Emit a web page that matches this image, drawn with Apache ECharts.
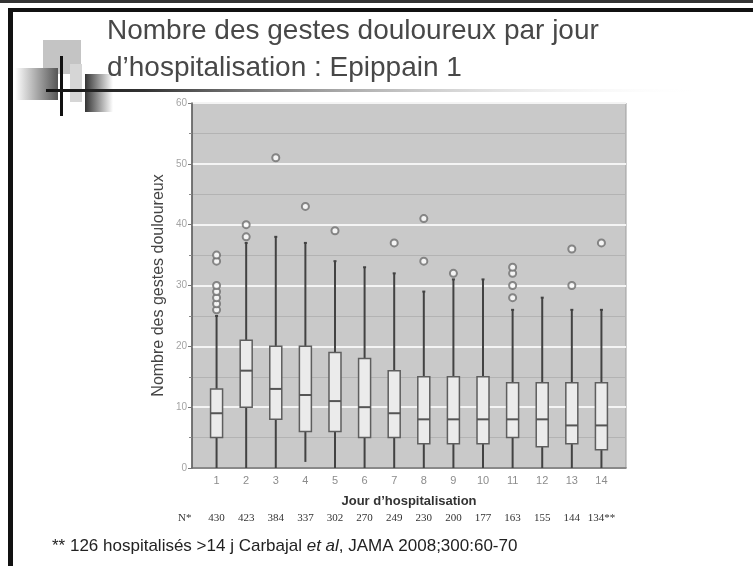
<!DOCTYPE html>
<html>
<head>
<meta charset="utf-8">
<script src="https://cdn.jsdelivr.net/npm/echarts@6/dist/echarts.min.js"></script>
<style>
  html, body { margin: 0; padding: 0; background: #fff; }
  #chart { width: 753px; height: 566px; }
</style>
</head>
<body>
<div id="chart"></div>
<script>
// day of hospitalisation (x tick labels)
const categories = ['1', '2', '3', '4', '5', '6', '7', '8', '9', '10', '11', '12', '13', '14'];
// box plot values per day
const whiskerLow = [0, 0, 0, 1, 0, 0, 0, 0, 0, 0, 0, 0, 0, 0];
const q1 = [5, 10, 8, 6, 6, 5, 5, 4, 4, 4, 5, 3.5, 4, 3];
const median = [9, 16, 13, 12, 11, 10, 9, 8, 8, 8, 8, 8, 7, 7];
const q3 = [13, 21, 20, 20, 19, 18, 16, 15, 15, 15, 14, 14, 14, 14];
const whiskerHigh = [25, 37, 38, 37, 34, 33, 32, 29, 31, 31, 26, 28, 26, 26];
const outliers = [
  [26, 27, 28, 29, 30, 34, 35], [38, 40], [51], [43], [39], [], [37],
  [34, 41], [32], [], [28, 30, 32, 33], [], [30, 36], [37]
];
// patients per day (second label row)
const nLabels = ['430', '423', '384', '337', '302', '270', '249', '230', '200', '177', '163', '155', '144', '134**'];

const positions = categories.map(function (c) { return Number(c); });
const boxData = positions.map(function (x, i) {
  return [x, whiskerLow[i], q1[i], median[i], q3[i], whiskerHigh[i]];
});
const outlierData = [];
outliers.forEach(function (list, i) {
  list.forEach(function (v) { outlierData.push([positions[i], v]); });
});

const chart = echarts.init(document.getElementById('chart'));

function renderBox(params, api) {
  const x = api.value(0);
  const lo = api.coord([x, api.value(1)]);
  const b1 = api.coord([x, api.value(2)]);
  const md = api.coord([x, api.value(3)]);
  const b3 = api.coord([x, api.value(4)]);
  const hi = api.coord([x, api.value(5)]);
  const half = 6;
  const whisker = { stroke: '#424242', lineWidth: 2 };
  return {
    type: 'group',
    children: [
      { type: 'line', shape: { x1: hi[0], y1: hi[1], x2: b3[0], y2: b3[1] }, style: whisker },
      { type: 'line', shape: { x1: hi[0] - 1.5, y1: hi[1], x2: hi[0] + 1.5, y2: hi[1] }, style: whisker },
      { type: 'line', shape: { x1: lo[0], y1: lo[1], x2: b1[0], y2: b1[1] }, style: whisker },
      {
        type: 'rect',
        shape: { x: b3[0] - half, y: b3[1], width: half * 2, height: b1[1] - b3[1] },
        style: { fill: '#ebebeb', stroke: '#5e5e5e', lineWidth: 1.5 }
      },
      { type: 'line', shape: { x1: md[0] - half, y1: md[1], x2: md[0] + half, y2: md[1] }, style: { stroke: '#555', lineWidth: 2 } }
    ]
  };
}

chart.setOption({
  animation: false,
  backgroundColor: '#fff',
  textStyle: { fontFamily: 'Liberation Sans' },
  grid: {
    left: 192, top: 103, right: 127, bottom: 98,
    show: true, backgroundColor: '#c9c9c9', borderColor: '#9c9c9c', borderWidth: 1
  },
  xAxis: [
    {
      type: 'value', min: 0.17, max: 14.83,
      name: 'Jour d\u2019hospitalisation', nameLocation: 'middle', nameGap: 27,
      nameTextStyle: { fontSize: 13, fontWeight: 'bold', color: '#333' },
      axisLine: { lineStyle: { color: '#666', width: 1.5 } },
      axisTick: { show: false },
      splitLine: { show: false },
      axisLabel: {
        customValues: positions, margin: 7, fontSize: 11, color: '#8c8c8c',
        formatter: function (v) { return categories[Math.round(v) - 1]; }
      }
    },
    {
      type: 'value', min: 0.17, max: 14.83, position: 'bottom', offset: 45,
      axisLine: { show: false }, axisTick: { show: false }, splitLine: { show: false },
      axisLabel: {
        customValues: positions, margin: 0, fontSize: 11, color: '#333', fontFamily: 'Liberation Serif',
        formatter: function (v) { return nLabels[Math.round(v) - 1]; }
      }
    }
  ],
  yAxis: {
    type: 'value', min: 0, max: 60, interval: 10,
    name: 'Nombre des gestes douloureux', nameLocation: 'middle', nameGap: 25, nameMoveOverlap: false,
    nameTextStyle: { fontSize: 16, color: '#444' },
    axisLine: { show: true, lineStyle: { color: '#5a5a5a', width: 1.5 } },
    axisTick: { show: true, length: 4, lineStyle: { color: '#777' } },
    minorTick: { show: true, splitNumber: 2, length: 3, lineStyle: { color: '#888' } },
    splitLine: { lineStyle: { color: '#f4f4f4', width: 2 } },
    minorSplitLine: { show: true, lineStyle: { color: '#b3b3b3', width: 1 } },
    axisLabel: { fontSize: 10, color: '#a4a4a4', margin: 5 }
  },
  series: [
    {
      type: 'custom',
      renderItem: renderBox,
      data: boxData,
      encode: { x: 0, y: [1, 2, 3, 4, 5] },
      z: 3
    },
    {
      type: 'scatter',
      data: outlierData,
      symbol: 'emptyCircle',
      symbolSize: 7,
      itemStyle: { color: '#6e6e6e', borderColor: '#6e6e6e', borderWidth: 1.5 },
      z: 4
    }
  ],
  graphic: [
    // slide frame
    { type: 'rect', shape: { x: 0, y: 0, width: 753, height: 3 }, style: { fill: '#333' } },
    { type: 'rect', shape: { x: 8, y: 8, width: 745, height: 4 }, style: { fill: '#111' } },
    { type: 'rect', shape: { x: 8, y: 8, width: 5, height: 558 }, style: { fill: '#111' } },
    // decoration
    { type: 'rect', shape: { x: 43, y: 40, width: 38, height: 34 }, style: { fill: '#c4c4c4' } },
    {
      type: 'rect', shape: { x: 15, y: 68, width: 43, height: 32 },
      style: { fill: new echarts.graphic.LinearGradient(0, 0, 1, 0, [{ offset: 0, color: '#fff' }, { offset: 1, color: '#555' }]) }
    },
    { type: 'rect', shape: { x: 70, y: 64, width: 12, height: 38 }, style: { fill: '#d6d6d6' } },
    {
      type: 'rect', shape: { x: 85, y: 74, width: 28, height: 38 },
      style: { fill: new echarts.graphic.LinearGradient(0, 0, 1, 0, [{ offset: 0, color: '#333' }, { offset: 1, color: '#fff' }]) }
    },
    { type: 'rect', shape: { x: 60, y: 56, width: 3, height: 60 }, style: { fill: '#111' } },
    {
      type: 'rect', shape: { x: 46, y: 89, width: 660, height: 3 },
      style: { fill: new echarts.graphic.LinearGradient(0, 0, 1, 0, [{ offset: 0, color: '#111' }, { offset: 0.15, color: '#333' }, { offset: 1, color: 'rgba(255,255,255,0)' }]) }
    },
    // title
    {
      type: 'text', left: 107, top: 17,
      style: { text: 'Nombre des gestes douloureux par jour', font: '28px "Liberation Sans"', fill: '#484848' }
    },
    {
      type: 'text', left: 107, top: 54,
      style: { text: 'd\u2019hospitalisation : Epippain 1', font: '28px "Liberation Sans"', fill: '#484848' }
    },
    // N row label
    {
      type: 'text', left: 178, top: 513,
      style: { text: 'N*', font: '11px "Liberation Serif"', fill: '#333' }
    },
    // footer
    {
      type: 'text', left: 52, top: 538,
      style: {
        text: '** 126 hospitalisés >14 j Carbajal {i|et al}, JAMA 2008;300:60-70',
        font: '17px "Liberation Sans"', fill: '#222',
        rich: { i: { fontStyle: 'italic', fontSize: 17, fontFamily: 'Liberation Sans', fill: '#222' } }
      }
    }
  ]
});
</script>
</body>
</html>
